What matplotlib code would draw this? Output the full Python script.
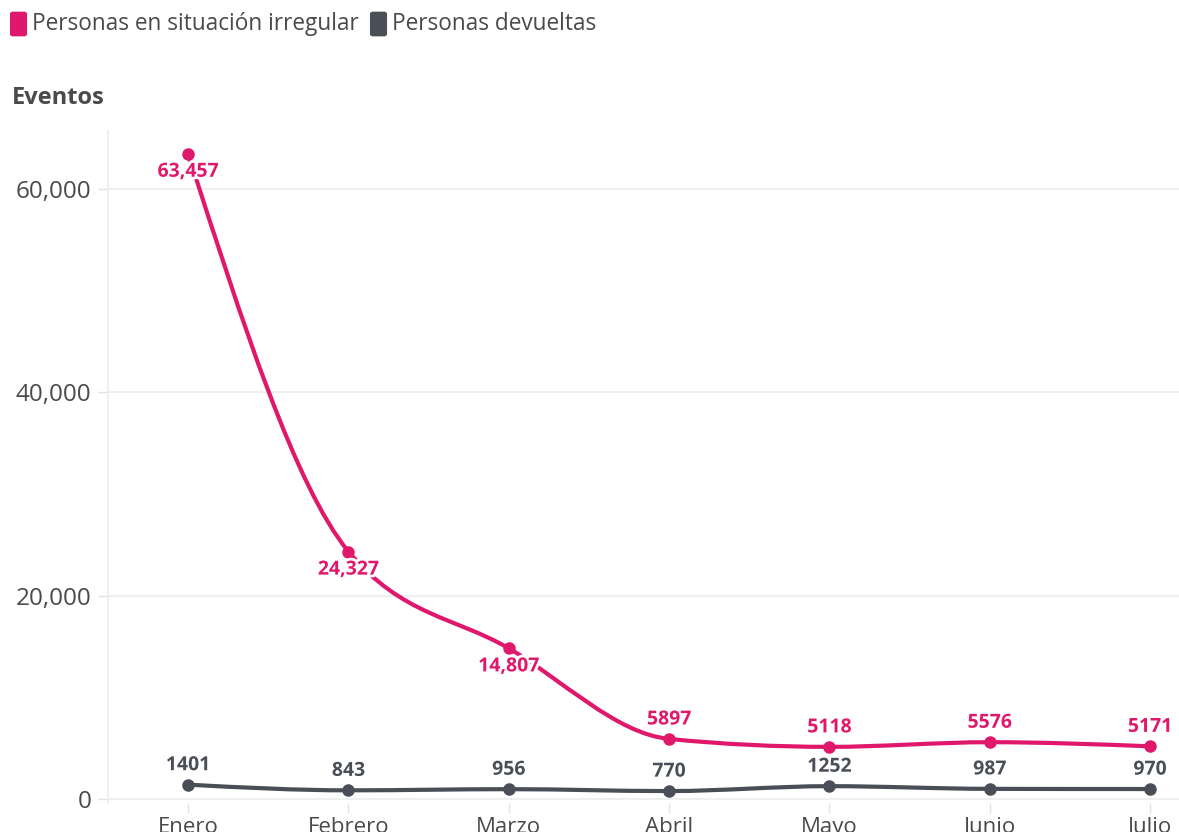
"""Personas en situación irregular vs devueltas, enero-julio."""
import numpy as np
import matplotlib.pyplot as plt
import matplotlib.patheffects as pe
from matplotlib.path import Path
from matplotlib.patches import PathPatch, FancyBboxPatch

months = ["Enero", "Febrero", "Marzo", "Abril", "Mayo", "Junio", "Julio"]
irregular = [63457, 24327, 14807, 5897, 5118, 5576, 5171]
devueltas = [1401, 843, 956, 770, 1252, 987, 970]
irregular_labels = ["63,457", "24,327", "14,807", "5897", "5118", "5576", "5171"]
devueltas_labels = [str(v) for v in devueltas]
yticks = [0, 20000, 40000, 60000]
ytick_labels = ["0", "20,000", "40,000", "60,000"]

PINK = "#E0186C"
GRAY = "#4A4F57"
TEXT = "#4a4a4a"

plt.rcParams["font.family"] = ["Open Sans", "DejaVu Sans"]


def monotone_path(xs, ys):
    """Monotone cubic (like d3 curveMonotoneX) as Bezier path."""
    xs = np.asarray(xs, float)
    ys = np.asarray(ys, float)
    h = np.diff(xs)
    s = np.diff(ys) / h
    n = len(xs)
    t = np.zeros(n)
    for i in range(1, n - 1):
        p = (s[i - 1] * h[i] + s[i] * h[i - 1]) / (h[i - 1] + h[i])
        t[i] = (np.sign(s[i - 1]) + np.sign(s[i])) * min(abs(s[i - 1]), abs(s[i]), 0.5 * abs(p))
    t[0] = (3 * s[0] - t[1]) / 2
    t[-1] = (3 * s[-1] - t[-2]) / 2
    verts = [(xs[0], ys[0])]
    codes = [Path.MOVETO]
    for i in range(n - 1):
        dx = (xs[i + 1] - xs[i]) / 3
        verts += [(xs[i] + dx, ys[i] + dx * t[i]),
                  (xs[i + 1] - dx, ys[i + 1] - dx * t[i + 1]),
                  (xs[i + 1], ys[i + 1])]
        codes += [Path.CURVE4] * 3
    return Path(verts, codes)


fig = plt.figure(figsize=(11.79, 8.32), dpi=100)
ax = fig.add_axes([0.0916, 0.0349, 0.9084, 0.809])

x = np.arange(len(months))
halo = [pe.withStroke(linewidth=4, foreground="white")]

for vals, color, labels, below in [
    (devueltas, GRAY, devueltas_labels, [False] * 7),
    (irregular, PINK, irregular_labels, [True, True, True, False, False, False, False]),
]:
    ax.add_patch(PathPatch(monotone_path(x, vals), fill=False, edgecolor=color,
                           lw=3, capstyle="round", joinstyle="round", zorder=3))
    ax.plot(x, vals, "o", color=color, markersize=8, zorder=4)
    for xi, v, lab, b in zip(x, vals, labels, below):
        ax.annotate(lab, (xi, v), xytext=(0, -13 if b else 14), textcoords="offset points",
                    ha="center", va="center", fontsize=14, fontweight="bold",
                    color=color, path_effects=halo, zorder=5)

ax.set_xlim(-0.5, 6.18)
ax.set_ylim(-400, 65800)
ax.set_xticks(x)
ax.set_xticklabels(months)
ax.set_yticks(yticks)
ax.set_yticklabels(ytick_labels)
ax.tick_params(axis="both", colors="#e3e3e3", labelcolor=TEXT, length=7, width=1)
ax.tick_params(axis="x", pad=3, labelsize=16)
ax.tick_params(axis="y", pad=5, labelsize=17.5)
ax.grid(axis="y", color="#ececec", lw=1.2)
ax.set_axisbelow(True)
for side in ["top", "right", "bottom"]:
    ax.spines[side].set_visible(False)
ax.spines["left"].set_color("#ececec")
ax.spines["left"].set_linewidth(1.2)

# legend
fig.patches.append(FancyBboxPatch((13 / 1179, 1 - 34 / 832), 11 / 1179, 20 / 832,
                                  boxstyle="round,pad=0.002", transform=fig.transFigure,
                                  fc=PINK, ec=PINK))
fig.text(32 / 1179, 1 - 24 / 832, "Personas en situación irregular", fontsize=16.3,
         color=TEXT, va="center", ha="left")
fig.patches.append(FancyBboxPatch((373 / 1179, 1 - 34 / 832), 11 / 1179, 20 / 832,
                                  boxstyle="round,pad=0.002", transform=fig.transFigure,
                                  fc=GRAY, ec=GRAY))
fig.text(392 / 1179, 1 - 24 / 832, "Personas devueltas", fontsize=16.3,
         color=TEXT, va="center", ha="left")

fig.text(12 / 1179, 1 - 98 / 832, "Eventos", fontsize=17, fontweight="bold",
         color=TEXT, va="center", ha="left")

fig.savefig("out.png", dpi=100)
